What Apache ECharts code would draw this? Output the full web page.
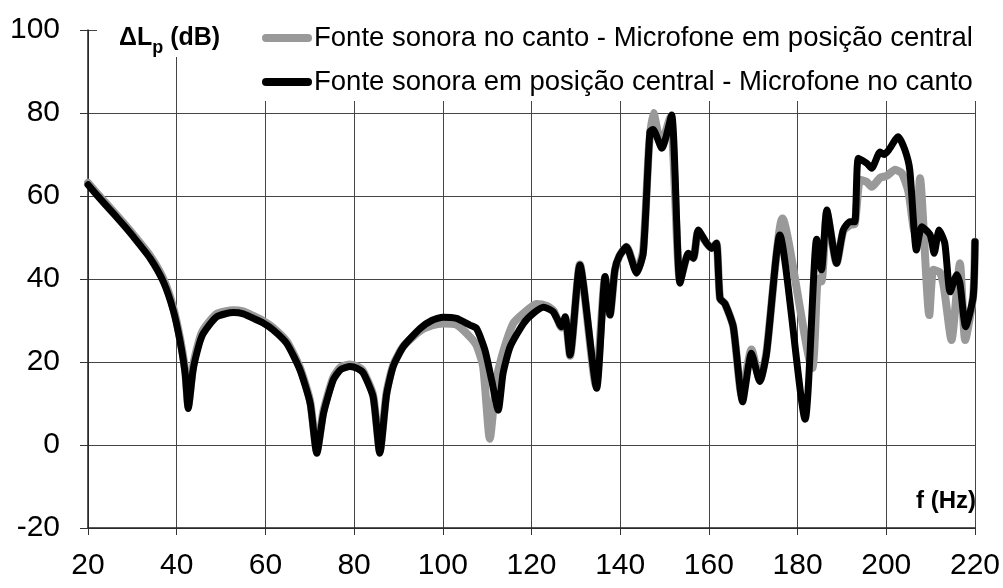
<!DOCTYPE html>
<html>
<head>
<meta charset="utf-8">
<script src="https://cdn.jsdelivr.net/npm/echarts@6/dist/echarts.min.js"></script>
<style>
  html, body { margin: 0; padding: 0; background: #fff; }
  #chart { width: 1003px; height: 588px; }
</style>
</head>
<body>
<div id="chart"></div>
<script>
// Series names
const seriesNames = [
  'Fonte sonora no canto - Microfone em posição central',
  'Fonte sonora em posição central - Microfone no canto'
];

// Axis ticks
const xTicks = [20, 40, 60, 80, 100, 120, 140, 160, 180, 200, 220];
const yTicks = [-20, 0, 20, 40, 60, 80, 100];

// Source in the corner, microphone in the centre (grey)
const freqCorner = [
  20, 22, 25.7, 28, 30.2, 34, 37, 39.2, 40.7, 41.9, 42.6, 43.7, 45, 46, 49, 52.8, 55, 57.3, 59.5, 61.8,
  64.8, 67.8, 70.1, 71.6, 73.1, 75.3, 77, 79.1, 80.8, 82.1, 84.3, 85.8, 87.3, 88.8, 91.1, 94.9, 97.5, 100.1,
  103.1, 106.1, 107.6, 109.1, 110.6, 112, 113.3, 115.9, 118.5, 121.1, 123.5, 125, 126.8, 127.6, 128.7, 130.9,
  134.5, 136.6, 137.7, 138.8, 139.8, 141.4, 143.7, 145.2, 146.5, 147.5, 149.2, 151.3, 153.5, 155.4, 156.5,
  157.6, 159.5, 160.6, 161.7, 162.5, 163.6, 165.5, 167.4, 169.6, 171.5, 173, 176.6, 183.3, 184.6, 185.4,
  186.6, 188.8, 190.3, 191.8, 192.9, 194.1, 195.6, 196.7, 198.6, 200, 202, 203.5, 205, 206.1, 206.8, 207.6,
  209.7, 210.6, 212.1, 213, 214.7, 216.6, 217.8, 219.6, 220
];
const levelCorner = [
  63.2, 60.7, 56.3, 53.5, 50.7, 45.6, 40, 33.2, 26, 18, 9.5, 19, 25, 27.8, 31.6, 32.5, 32.2, 31.1, 29.9, 28.2,
  25, 18.6, 10.5, -1.5, 8.2, 16.3, 18.8, 19.4, 18.9, 17.7, 12, -1.5, 12.5, 19.2, 23.8, 27.5, 28.8, 29.3,
  29, 26.1, 24, 18.9, 1.5, 15, 21.3, 29.3, 32, 34, 33.5, 32.3, 28.3, 30.5, 21.5, 43.5,
  14.5, 40.3, 31.5, 42, 45.5, 47.8, 41.8, 47, 72, 80, 72.5, 79, 39.5, 46, 45,
  51.5, 48.6, 47.4, 48.6, 35.3, 34.1, 28.5, 12, 23, 15.5, 22.5, 54.6, 18.5, 40, 39.4,
  56, 43.8, 51.5, 53, 53.3, 63.9, 63.4, 62.2, 64.4, 64.8, 66.3, 65.5, 61, 52.6, 50, 64.3,
  31.3, 42.2, 41.6, 38, 25.3, 43.8, 25.3, 36, 49
];

// Source in the centre, microphone in the corner (black)
const freqCentre = [
  20, 22, 25.7, 28, 30.2, 34, 37, 39.2, 40.7, 41.9, 42.6, 43.7, 45, 46, 49, 52.8, 55, 57.3, 59.5, 61.8,
  64.8, 67.8, 70.1, 71.6, 73.1, 75.3, 77, 79.1, 80.8, 82.1, 84.3, 85.8, 87.3, 88.8, 91.1, 94.9, 97.5, 100.1,
  103.1, 106.1, 107.6, 109.5, 111, 112.5, 113.6, 115.2, 118.2, 120.5, 122.7, 124.9, 126.8, 127.6, 128.7, 130.9,
  134.7, 136.6, 137.7, 138.8, 139.8, 141.4, 143.7, 145.2, 146.7, 147.4, 149.4, 151.6, 153.5, 155.4, 156.5,
  157.6, 159.5, 160.6, 161.7, 162.5, 163.6, 165.5, 167.6, 169.6, 171.5, 173, 176, 181.7, 184.3, 185.4,
  186.6, 188.8, 190.3, 191.8, 192.9, 193.7, 195.6, 196.7, 198.6, 199.5, 200.5, 202.7, 204.2, 205.3, 206.8, 208,
  209.9, 210.8, 211.9, 213.2, 214.4, 215.9, 216.6, 217.9, 219.6, 220
];
const levelCentre = [
  62.7, 60.2, 55.8, 53, 50.2, 45, 39.3, 32.5, 25.3, 17.3, 8.8, 18.1, 24, 26.9, 30.9, 31.9, 31.6, 30.5, 29.4, 27.7,
  24.5, 18.1, 10, -2, 7.6, 15.7, 18.2, 18.9, 18.4, 17.3, 11.6, -2, 12, 18.9, 23.7, 28.1, 30, 30.8,
  30.5, 28.9, 28.1, 22.9, 15.7, 8.4, 17.3, 23.7, 29.3, 31.8, 33.2, 32.1, 28.5, 30.9, 21.7, 43.4,
  13.7, 40.6, 31.3, 42.2, 45.5, 47.8, 41.4, 46.2, 75.5, 76, 71.5, 79.5, 39, 46.2, 45,
  51.8, 48.6, 47.4, 48.6, 35.3, 34.1, 28.5, 10.4, 22.1, 15.3, 22.1, 50.6, 6.2, 49.6, 42.2,
  56.6, 43.8, 51.8, 53.8, 53.8, 69.1, 67.9, 66.7, 70.6, 70, 71, 74.3, 71.1, 66.3, 47, 52.6,
  50.6, 46.2, 51.8, 48.6, 36.9, 41, 39, 28.5, 35.7, 49
];

const pairs = (xs, ys) => xs.map((x, i) => [x, ys[i]]);

const FONT = "'Liberation Sans', Arial, sans-serif";
// Capsule-shaped legend key (thick line with round ends)
const KEY = 'path://M4,0 L46,0 A4,4 0 0 1 46,8 L4,8 A4,4 0 0 1 4,0 Z';

const chart = echarts.init(document.getElementById('chart'), null, { renderer: 'canvas' });

chart.setOption({
  animation: false,
  backgroundColor: '#fff',
  textStyle: { fontFamily: FONT },
  grid: { left: 88, right: 28, top: 30, bottom: 60, containLabel: false },
  title: {
    text: '{a|ΔL}{b|p}{a| (dB)}',
    left: 119,
    top: 26,
    padding: 0,
    z: 6,
    textStyle: {
      rich: {
        a: { fontFamily: FONT, fontWeight: 'bold', fontSize: 25, color: '#000', verticalAlign: 'top', lineHeight: 25 },
        b: { fontFamily: FONT, fontWeight: 'bold', fontSize: 18, color: '#000', verticalAlign: 'top', padding: [13, 0, 0, 0], lineHeight: 25 }
      }
    }
  },
  legend: {
    data: seriesNames.map(n => ({ name: n, icon: KEY })),
    orient: 'vertical',
    left: 262,
    top: 24,
    itemWidth: 50,
    itemHeight: 8,
    itemGap: 16,
    padding: 0,
    z: 5,
    textStyle: { fontFamily: FONT, fontSize: 27.5, color: '#000', padding: [0, 0, 0, -3] }
  },
  graphic: [
    { type: 'rect', z: 3, silent: true, shape: { x: 97, y: 0, width: 160, height: 57 }, style: { fill: '#fff' } },
    { type: 'rect', z: 3, silent: true, shape: { x: 255, y: 0, width: 748, height: 101 }, style: { fill: '#fff' } },
    {
      type: 'text', z: 6, silent: true, x: 976, y: 501,
      style: { text: 'f (Hz)', fontFamily: FONT, fontWeight: 'bold', fontSize: 24, fill: '#000', align: 'right', verticalAlign: 'middle' }
    }
  ],
  xAxis: {
    type: 'value',
    min: xTicks[0],
    max: xTicks[xTicks.length - 1],
    interval: xTicks[1] - xTicks[0],
    axisLine: { show: true, onZero: false, lineStyle: { color: '#222', width: 1.5 } },
    axisTick: { show: true, length: 7, lineStyle: { color: '#333' } },
    splitLine: { show: true, lineStyle: { color: '#444', width: 1 } },
    axisLabel: { show: true, fontFamily: FONT, fontSize: 30, color: '#000', margin: 23, showMinLabel: true, showMaxLabel: true, hideOverlap: false }
  },
  yAxis: {
    type: 'value',
    min: yTicks[0],
    max: yTicks[yTicks.length - 1],
    interval: yTicks[1] - yTicks[0],
    axisLine: { show: true, onZero: false, lineStyle: { color: '#222', width: 1.5 } },
    axisTick: { show: true, length: 8, lineStyle: { color: '#333' } },
    splitLine: { show: true, lineStyle: { color: '#444', width: 1 } },
    axisLabel: { show: true, fontFamily: FONT, fontSize: 30, color: '#000', margin: 28, showMinLabel: true, showMaxLabel: true, hideOverlap: false }
  },
  series: [
    {
      name: seriesNames[0],
      type: 'line',
      data: pairs(freqCorner, levelCorner),
      showSymbol: false,
      symbol: 'none',
      smooth: 0.2,
      clip: true,
      lineStyle: { color: '#999', width: 8, cap: 'round', join: 'round' },
      itemStyle: { color: '#999' }
    },
    {
      name: seriesNames[1],
      type: 'line',
      data: pairs(freqCentre, levelCentre),
      showSymbol: false,
      symbol: 'none',
      smooth: 0.2,
      clip: true,
      lineStyle: { color: '#000', width: 7, cap: 'round', join: 'round' },
      itemStyle: { color: '#000' }
    }
  ]
});
</script>
</body>
</html>
